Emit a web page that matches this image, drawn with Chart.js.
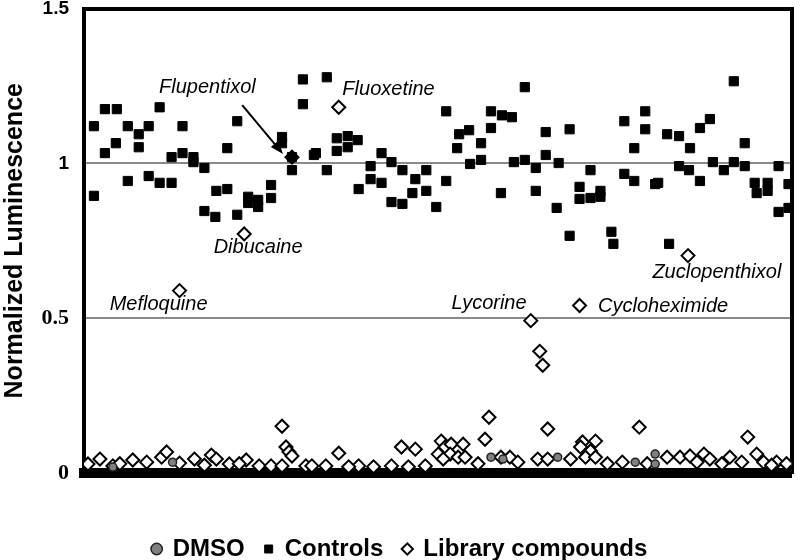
<!DOCTYPE html>
<html>
<head>
<meta charset="utf-8">
<script src="https://cdn.jsdelivr.net/npm/chart.js@4/dist/chart.umd.min.js"></script>
<style>
  html, body { margin: 0; padding: 0; background: #fff; }
  #wrap { width: 800px; height: 560px; }
</style>
</head>
<body>
<div id="wrap"><canvas id="screenChart"></canvas></div>
<script>
// x = sample order along the screen, y = normalized luminescence
const seriesNames = ['DMSO', 'Controls', 'Library compounds'];
const yTicks = [0, 0.5, 1, 1.5];

const dmso = [
    [89, 0.035], [29, 0.019], [409, 0.051], [421, 0.045],
    [476, 0.051], [554, 0.035], [574, 0.061], [574, 0.029]
];

const controls = [
    [10, 1.120], [10, 0.895], [21, 1.175], [21, 1.033], [33, 1.175], [32, 1.065],
    [44, 1.120], [44, 0.943], [55, 1.094], [55, 1.052], [65, 1.120], [65, 0.959],
    [76, 1.181], [76, 0.937], [88, 1.020], [88, 0.937], [99, 1.120], [99, 1.033],
    [110, 1.020], [110, 1.004], [121, 0.985], [121, 0.846], [132, 0.827], [133, 0.911],
    [144, 0.917], [144, 1.049], [154, 1.136], [154, 0.834], [165, 0.892], [165, 0.872],
    [175, 0.859], [175, 0.882], [188, 0.930], [188, 0.888], [199, 1.085], [199, 1.065],
    [209, 1.020], [209, 0.978], [220, 1.271], [220, 1.191], [231, 1.027], [233, 1.033],
    [244, 1.278], [244, 0.978], [254, 1.081], [254, 1.040], [265, 1.088], [265, 1.052],
    [275, 1.075], [276, 0.917], [288, 0.991], [288, 0.949], [299, 1.033], [299, 0.937],
    [309, 1.004], [309, 0.875], [320, 0.978], [320, 0.869], [333, 0.949], [330, 0.904],
    [344, 0.978], [344, 0.911], [354, 0.859], [364, 1.168], [364, 0.943], [375, 1.049],
    [377, 1.094], [387, 1.107], [388, 0.998], [399, 1.065], [399, 1.011], [409, 1.168],
    [409, 1.114], [420, 1.155], [419, 0.904], [430, 1.149], [432, 1.004], [443, 1.246],
    [443, 1.011], [454, 0.985], [454, 0.911], [464, 1.101], [464, 1.027], [475, 0.856],
    [477, 1.001], [488, 1.110], [488, 0.766], [498, 0.924], [498, 0.885], [509, 0.978],
    [509, 0.888], [519, 0.911], [519, 0.892], [530, 0.779], [532, 0.740], [543, 1.136],
    [543, 0.966], [553, 1.049], [553, 0.943], [564, 1.168], [564, 1.110], [574, 0.933],
    [577, 0.937], [586, 1.094], [588, 0.740], [598, 1.088], [598, 0.991], [609, 1.049],
    [608, 0.978], [619, 1.114], [619, 0.943], [629, 1.143], [632, 1.004], [643, 0.978],
    [653, 1.265], [653, 1.004], [664, 1.065], [664, 0.991], [674, 0.937], [676, 0.904],
    [687, 0.937], [687, 0.911], [698, 0.991], [698, 0.843], [708, 0.933], [708, 0.856]
];

const library = [
    // named hits
    [209, 1.020], [256, 1.181], [161, 0.772], [96, 0.589], [449, 0.492],
    [458, 0.393], [461, 0.348], [498, 0.541], [607, 0.702],
    // weak hits near the floor
    [199, 0.151], [203, 0.084], [206, 0.068], [209, 0.055], [256, 0.064],
    [319, 0.084], [333, 0.077], [359, 0.103], [363, 0.084], [369, 0.093],
    [381, 0.093], [356, 0.061], [368, 0.061], [376, 0.051], [383, 0.051],
    [361, 0.045], [403, 0.109], [407, 0.180], [466, 0.142], [501, 0.100],
    [514, 0.103], [499, 0.084], [509, 0.071], [489, 0.045], [504, 0.051],
    [514, 0.051], [558, 0.148], [667, 0.116], [676, 0.061], [683, 0.035],
    [696, 0.035], [586, 0.051], [599, 0.051], [609, 0.055], [623, 0.061],
    [629, 0.045], [649, 0.051], [16, 0.045], [4, 0.029], [29, 0.023],
    [49, 0.042], [63, 0.035], [78, 0.051], [83, 0.068], [96, 0.032],
    [111, 0.045], [128, 0.058], [133, 0.045], [146, 0.029], [163, 0.042],
    [176, 0.023], [188, 0.023], [199, 0.023], [223, 0.023], [229, 0.023],
    [243, 0.023], [276, 0.023], [309, 0.023], [343, 0.023], [456, 0.045],
    [466, 0.045], [419, 0.051], [428, 0.051], [36, 0.030], [121, 0.025],
    [156, 0.030], [266, 0.020], [291, 0.020], [326, 0.020], [396, 0.030],
    [436, 0.035], [526, 0.030], [541, 0.035], [566, 0.030], [616, 0.035],
    [641, 0.030], [661, 0.035], [691, 0.025], [706, 0.030]
];

// label text, position (data units)
const notes = [
    ['Flupentixol', 124, 1.246],
    ['Fluoxetine', 306, 1.239],
    ['Dibucaine', 175, 0.727],
    ['Mefloquine', 75, 0.544],
    ['Lycorine', 407, 0.547],
    ['Cycloheximide', 582, 0.537],
    ['Zuclopenthixol', 636, 0.647]
];
const arrowFrom = [159, 1.188];
const arrowTo = [200, 1.030];

function toPoints(list) {
    return list.map(p => ({ x: p[0], y: p[1] }));
}

const notesPlugin = {
    id: 'notes',
    afterDatasetsDraw(chart) {
        const ctx = chart.ctx;
        const xs = chart.scales.x, ys = chart.scales.y;
        ctx.save();
        ctx.fillStyle = '#000';
        ctx.font = 'italic 20px "Liberation Sans", Arial, sans-serif';
        ctx.textAlign = 'center';
        ctx.textBaseline = 'middle';
        notes.forEach(n => {
            ctx.fillText(n[0], xs.getPixelForValue(n[1]), ys.getPixelForValue(n[2]));
        });

        // arrow to Flupentixol
        const x1 = xs.getPixelForValue(arrowFrom[0]), y1 = ys.getPixelForValue(arrowFrom[1]);
        const x2 = xs.getPixelForValue(arrowTo[0]), y2 = ys.getPixelForValue(arrowTo[1]);
        const ang = Math.atan2(y2 - y1, x2 - x1);
        ctx.strokeStyle = '#000';
        ctx.lineWidth = 2;
        ctx.beginPath();
        ctx.moveTo(x1, y1);
        ctx.lineTo(x2 - 8 * Math.cos(ang), y2 - 8 * Math.sin(ang));
        ctx.stroke();
        ctx.beginPath();
        ctx.moveTo(x2, y2);
        ctx.lineTo(x2 - 14 * Math.cos(ang - 0.35), y2 - 14 * Math.sin(ang - 0.35));
        ctx.lineTo(x2 - 14 * Math.cos(ang + 0.35), y2 - 14 * Math.sin(ang + 0.35));
        ctx.closePath();
        ctx.fill();
        ctx.restore();
    }
};

function noOverhang(scale) {
    scale.paddingTop = 0;
    scale.paddingBottom = 0;
}

new Chart(document.getElementById('screenChart'), {
    type: 'scatter',
    data: {
        datasets: [{
            label: seriesNames[0],
            data: toPoints(dmso),
            pointStyle: 'circle',
            pointRadius: 4,
            backgroundColor: '#808080',
            borderColor: '#222',
            borderWidth: 1.5
        }, {
            label: seriesNames[1],
            data: toPoints(controls),
            pointStyle: 'rect',
            pointRadius: 6.5,
            backgroundColor: '#000',
            borderColor: '#000',
            borderWidth: 1
        }, {
            label: seriesNames[2],
            data: toPoints(library),
            pointStyle: 'rectRot',
            pointRadius: 6.5,
            backgroundColor: '#fff',
            borderColor: '#000',
            borderWidth: 2
        }]
    },
    options: {
        responsive: true,
        maintainAspectRatio: false,
        animation: false,
        layout: { padding: { left: 0, right: 0, top: 8, bottom: -11 } },
        plugins: {
            tooltip: { enabled: false },
            legend: {
                position: 'bottom',
                labels: {
                    usePointStyle: true,
                    boxWidth: 8,
                    boxHeight: 8,
                    padding: 20,
                    color: '#000',
                    font: { family: '"Liberation Sans", Arial, sans-serif', size: 24, weight: 'bold' }
                }
            }
        },
        scales: {
            x: {
                type: 'linear',
                min: 0,
                max: 711,
                ticks: { display: false },
                grid: { display: false },
                border: { display: true, color: '#000', width: 10 },
                afterFit(scale) { scale.height = 44; }
            },
            y: {
                min: 0,
                max: 1.5,
                afterBuildTicks(scale) { scale.ticks = yTicks.map(v => ({ value: v })); },
                ticks: {
                    padding: 15,
                    color: '#000',
                    callback: v => String(v),
                    font(ctx) {
                        const v = ctx.tick ? ctx.tick.value : 1;
                        if (v === 0 || v === 0.5) {
                            return { family: '"Liberation Serif", "Times New Roman", serif', size: 22, weight: 'bold' };
                        }
                        return { family: '"Liberation Sans", Arial, sans-serif', size: 19, weight: 'bold' };
                    }
                },
                grid: {
                    drawTicks: false,
                    color(ctx) {
                        const v = ctx.tick ? ctx.tick.value : 0;
                        if (v === 1.5) return '#000';
                        if (v === 0) return 'rgba(0,0,0,0)';
                        return '#8a8a8a';
                    },
                    lineWidth(ctx) {
                        const v = ctx.tick ? ctx.tick.value : 0;
                        return v === 1.5 ? 4 : 2;
                    }
                },
                border: { display: true, color: '#000', width: 4 },
                title: {
                    display: true,
                    text: 'Normalized Luminescence',
                    color: '#000',
                    padding: { top: 0, bottom: 0 },
                    font: { family: '"Liberation Sans", Arial, sans-serif', size: 25, weight: 'bold' }
                },
                afterFit(scale) { scale.width = 84; noOverhang(scale); }
            },
            yRight: {
                position: 'right',
                min: 0,
                max: 1.5,
                ticks: { display: false },
                grid: { display: false },
                border: { display: true, color: '#000', width: 4 },
                afterFit(scale) { scale.width = 5; noOverhang(scale); }
            }
        }
    },
    plugins: [notesPlugin]
});
</script>
</body>
</html>
